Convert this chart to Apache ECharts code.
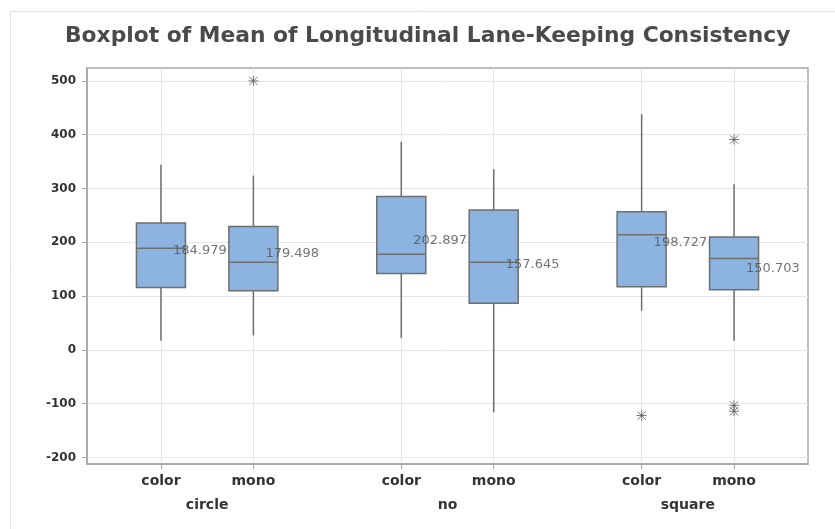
<!DOCTYPE html>
<html>
<head>
<meta charset="utf-8">
<script src="https://cdn.jsdelivr.net/npm/echarts@6/dist/echarts.min.js"></script>
<style>html,body{margin:0;padding:0;background:#fff}#c{width:835px;height:529px}</style>
</head>
<body>
<div id="c"></div>
<script>
// ---- data ----
const groups = ['circle', 'no', 'square'];
const categories = ['color', 'mono', 'color', 'mono', 'color', 'mono'];
const mins    = [17, 27, 22, -116, 73, 17];
const q1s     = [116, 110, 142, 87, 117.5, 112];
const medians = [189, 163, 178, 163, 214, 170];
const q3s     = [236, 229.5, 285, 260, 257, 210];
const maxs    = [344, 324, 387, 336, 438, 308];
const means   = [184.979, 179.498, 202.897, 157.645, 198.727, 150.703];
const outlierCat = [1, 4, 5, 5, 5];
const outlierVal = [500, -122, 391, -103, -114];
const yTicks = [-200, -100, 0, 100, 200, 300, 400, 500];

// ---- layout (x positions along a value axis: 2 boxes per group, gap between groups) ----
const GROUP_STEP = 2.6;
const xPos = categories.map((c, i) => Math.floor(i / 2) * GROUP_STEP + (i % 2));
const groupPos = groups.map((g, i) => i * GROUP_STEP + 0.5);

const boxData = categories.map((c, i) => [xPos[i], mins[i], q1s[i], medians[i], q3s[i], maxs[i]]);
const outData = outlierCat.map((ci, k) => [xPos[ci], outlierVal[k]]);
const meanData = means.map((m, i) => [xPos[i], m]);

const chart = echarts.init(document.getElementById('c'), null, {renderer: 'canvas'});
const edge = '#6e6e6e';
const BOX_HALF = 24.5;

const option = {
  backgroundColor: '#ffffff',
  animation: false,
  title: {
    text: 'Boxplot of Mean of Longitudinal Lane-Keeping Consistency',
    left: 60, top: 20,
    textStyle: {fontFamily: 'DejaVu Sans', fontWeight: 'bold', fontSize: 21.8, color: '#4a4a4a'}
  },
  graphic: [{
    type: 'rect', left: 8, top: 9, silent: true,
    shape: {width: 900, height: 600},
    style: {fill: 'none', stroke: '#dedede', lineWidth: 1}, z: -1
  }],
  grid: {left: 87, right: 27, top: 68, bottom: 65, show: true, borderColor: '#a6a6a6', borderWidth: 1.5, backgroundColor: 'transparent'},
  xAxis: [{
    type: 'value', min: -0.8, max: 7.0,
    axisLine: {show: true, onZero: false, lineStyle: {color: '#a6a6a6', width: 1.5}},
    axisTick: {show: true, length: 5, customValues: xPos, lineStyle: {color: '#a6a6a6'}},
    axisLabel: {
      customValues: xPos, margin: 10,
      formatter: (v) => { const i = xPos.findIndex(p => Math.abs(p - v) < 1e-6); return i >= 0 ? categories[i] : ''; },
      fontFamily: 'DejaVu Sans', fontWeight: 'bold', fontSize: 14, color: '#333'
    },
    splitLine: {show: true, lineStyle: {color: '#e6e6e6', width: 1}}
  }, {
    type: 'value', min: -0.8, max: 7.0, position: 'bottom', offset: 24,
    axisLine: {show: false, onZero: false}, axisTick: {show: false}, splitLine: {show: false},
    axisLabel: {
      customValues: groupPos, margin: 10,
      formatter: (v) => { const i = groupPos.findIndex(p => Math.abs(p - v) < 1e-6); return i >= 0 ? groups[i] : ''; },
      fontFamily: 'DejaVu Sans', fontWeight: 'bold', fontSize: 14, color: '#333'
    }
  }],
  yAxis: {
    type: 'value', min: -212, max: 524,
    axisLine: {show: true, onZero: false, lineStyle: {color: '#a6a6a6', width: 1.5}},
    axisTick: {show: true, length: 5, customValues: yTicks, lineStyle: {color: '#a6a6a6'}},
    axisLabel: {customValues: yTicks, margin: 11, fontFamily: 'DejaVu Sans', fontWeight: 'bold', fontSize: 12, color: '#333'},
    splitLine: {show: true, lineStyle: {color: '#e6e6e6', width: 1}}
  },
  series: [{
    type: 'custom', z: 2,
    data: boxData,
    encode: {x: 0, y: [1, 2, 3, 4, 5]},
    renderItem: function (params, api) {
      const x = api.value(0);
      const pMin = api.coord([x, api.value(1)]);
      const pQ1 = api.coord([x, api.value(2)]);
      const pMed = api.coord([x, api.value(3)]);
      const pQ3 = api.coord([x, api.value(4)]);
      const pMax = api.coord([x, api.value(5)]);
      const ls = {stroke: edge, lineWidth: 1.5};
      return {type: 'group', children: [
        {type: 'line', shape: {x1: pMax[0], y1: pMax[1], x2: pQ3[0], y2: pQ3[1]}, style: ls},
        {type: 'line', shape: {x1: pQ1[0], y1: pQ1[1], x2: pMin[0], y2: pMin[1]}, style: ls},
        {type: 'rect', shape: {x: pQ3[0] - BOX_HALF, y: pQ3[1], width: BOX_HALF * 2, height: pQ1[1] - pQ3[1]},
          style: {fill: '#8db4e0', stroke: edge, lineWidth: 1.5}},
        {type: 'line', shape: {x1: pMed[0] - BOX_HALF, y1: pMed[1], x2: pMed[0] + BOX_HALF, y2: pMed[1]}, style: ls}
      ]};
    }
  }, {
    type: 'scatter', z: 3,
    data: outData,
    symbol: 'path://M-1,-1L1,1M-1,1L1,-1M0,-1.2L0,1.2M-1.2,0L1.2,0',
    symbolSize: 10,
    itemStyle: {color: 'rgba(0,0,0,0)', borderColor: '#555', borderWidth: 1}
  }, {
    type: 'scatter', z: 4,
    data: meanData,
    symbolSize: 0,
    label: {
      show: true, position: 'right', distance: 12,
      formatter: (p) => p.value[1].toFixed(3),
      fontFamily: 'DejaVu Sans', fontSize: 13, color: '#505050'
    }
  }]
};
chart.setOption(option);
</script>
</body>
</html>
